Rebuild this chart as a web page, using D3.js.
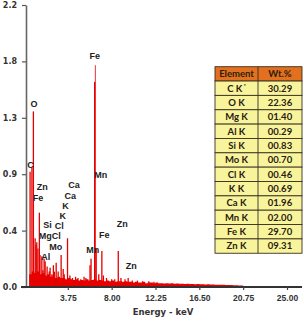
<!DOCTYPE html>
<html>
<head>
<meta charset="utf-8">
<script src="https://cdn.jsdelivr.net/npm/d3@7"></script>
<style>
  body { margin: 0; background: #fff; }
  svg { display: block; }
</style>
</head>
<body>
<div id="container"></div>
<script>
// background counts, one value every 0.25 keV starting at 0.00 keV
const bgStart = 0, bgStep = 0.25;
const bgValues = [
  0.10, 0.12, 0.11, 0.12, 0.10, 0.11, 0.09, 0.10, 0.08, 0.09, 0.07, 0.08,
  0.07, 0.07, 0.06, 0.07, 0.06, 0.055, 0.06, 0.05, 0.055, 0.05, 0.06, 0.05,
  0.055, 0.06, 0.05, 0.055, 0.05, 0.045, 0.05, 0.045, 0.05, 0.04, 0.045, 0.045,
  0.04, 0.045, 0.04, 0.04, 0.035, 0.04, 0.035, 0.035, 0.04, 0.03, 0.035, 0.035,
  0.03, 0.035, 0.03, 0.03, 0.028, 0.03, 0.027, 0.03, 0.026, 0.027, 0.025, 0.026,
  0.024, 0.025, 0.023, 0.024, 0.022, 0.023, 0.021, 0.022, 0.02, 0.021, 0.019, 0.02,
  0.018, 0.018, 0.017, 0.017, 0.016, 0.015, 0.015, 0.014, 0.013, 0.012, 0.011, 0.008
];

// peak lines: energy (keV) and height
const peakE = [
  0.09, 0.27, 0.41, 0.58, 0.66, 0.74, 0.85, 0.99, 1.05, 1.23, 1.33, 1.45,
  1.55, 1.74, 1.95, 2.03, 2.2, 2.35, 2.45, 2.62, 2.81, 3.1, 3.3, 3.4,
  3.72, 3.95, 4.2, 4.5, 4.73, 5.0, 5.32, 5.5, 5.9, 6.0, 6.35, 6.42,
  6.5, 6.75, 7.05, 7.2, 7.5, 8.0, 8.3, 8.64, 8.9, 9.3, 9.6, 10.0,
  10.5, 11.0, 11.6, 12.1
];
const peakV = [
  0.90, 0.93, 1.37, 0.38, 0.33, 0.35, 0.30, 0.58, 0.25, 0.24, 0.13, 0.22,
  0.20, 0.16, 0.12, 0.15, 0.10, 0.17, 0.12, 0.19, 0.12, 0.25, 0.14, 0.10,
  0.38, 0.09, 0.07, 0.08, 0.07, 0.06, 0.08, 0.07, 0.17, 0.22, 1.60, 1.73,
  0.30, 0.10, 0.28, 0.09, 0.07, 0.06, 0.06, 0.28, 0.07, 0.06, 0.07, 0.05,
  0.05, 0.045, 0.045, 0.04
];

// peak annotations
const labelText = ["Fe", "O", "C", "Mn", "Zn", "Fe", "Ca", "Ca", "K", "K", "Si", "Cl",
  "Mg", "Cl", "Mo", "Al", "Mn", "Fe", "Zn", "Zn"];
const labelE = [6.35, 0.46, 0.14, 6.94, 1.26, 0.87, 4.36, 3.98, 3.52, 3.25, 1.79, 2.91,
  1.55, 2.62, 2.57, 1.60, 6.16, 7.28, 9.02, 9.90];
const labelV = [1.775, 1.402, 0.928, 0.848, 0.757, 0.671, 0.770, 0.689, 0.606, 0.528, 0.460, 0.456,
  0.378, 0.378, 0.289, 0.207, 0.269, 0.382, 0.468, 0.137];

// ticks
const yTicks = [0, 0.44, 0.88, 1.32, 1.76, 2.2];
const xTicks = [3.75, 8.00, 12.25, 16.50, 20.75, 25.00];

// composition table
const elements = ["C K", "O K", "Mg K", "Al K", "Si K", "Mo K", "Cl K", "K K", "Ca K", "Mn K", "Fe K", "Zn K"];
const wtPct = [30.29, 22.36, 1.40, 0.29, 0.83, 0.70, 0.46, 0.69, 1.96, 2.00, 29.70, 9.31];

const W = 304, H = 321;
const red = "#e60000";

const xScale = d3.scaleLinear().domain([-0.5, 25]).range([24, 287]);
const yScale = d3.scaleLinear().domain([0, 2.2]).range([287, 5]);

const svg = d3.select("#container").append("svg")
  .attr("width", W)
  .attr("height", H);

// background area
const bg = bgValues.map((v, i) => [bgStart + i * bgStep, v]);
svg.append("path")
  .datum(bg)
  .attr("fill", red)
  .attr("d", d3.area()
    .x(d => xScale(d[0]))
    .y0(yScale(0))
    .y1(d => yScale(d[1]))
    .curve(d3.curveStepAfter));

// peaks
svg.append("g")
  .selectAll("line")
  .data(peakE)
  .join("line")
  .attr("x1", d => xScale(d))
  .attr("x2", d => xScale(d))
  .attr("y1", yScale(0))
  .attr("y2", (d, i) => yScale(peakV[i]))
  .attr("stroke", red)
  .attr("stroke-width", (d, i) => peakV[i] > 1.65 ? 0.8 : 1.3);

// y axis
const yAxis = d3.axisLeft(yScale)
  .tickValues(yTicks)
  .tickFormat(d3.format(".1f"))
  .tickSize(4)
  .tickSizeOuter(0)
  .tickPadding(5);

const gy = svg.append("g")
  .attr("transform", "translate(26,0)")
  .call(yAxis);
gy.select(".domain").attr("stroke", "#666").attr("stroke-width", 1.6);
gy.selectAll(".tick line").attr("stroke", "#555").attr("stroke-width", 1.2);
gy.selectAll(".tick text")
  .attr("fill", "#333")
  .style("font", "bold 8px 'DejaVu Sans'");

// x axis
const xAxis = d3.axisBottom(xScale)
  .tickValues(xTicks)
  .tickFormat(d3.format(".2f"))
  .tickSize(3)
  .tickSizeOuter(0)
  .tickPadding(5);

const gx = svg.append("g")
  .attr("transform", "translate(0," + yScale(0) + ")")
  .call(xAxis);
gx.select(".domain")
  .attr("d", "M21,0H302")
  .attr("stroke", "#333")
  .attr("stroke-width", 2);
gx.selectAll(".tick line").attr("stroke", "#444").attr("stroke-width", 1.2);
gx.selectAll(".tick text")
  .attr("fill", "#333")
  .style("font", "bold 8.5px 'Liberation Sans'");

svg.append("text")
  .attr("x", 163)
  .attr("y", 315)
  .attr("text-anchor", "middle")
  .attr("fill", "#333")
  .style("font", "bold 8.5px 'DejaVu Sans'")
  .text("Energy - keV");

// peak labels
svg.append("g")
  .selectAll("text")
  .data(labelText)
  .join("text")
  .attr("x", (d, i) => xScale(labelE[i]))
  .attr("y", (d, i) => yScale(labelV[i]))
  .attr("text-anchor", "middle")
  .attr("fill", "#222")
  .style("font", "bold 9px 'Liberation Sans'")
  .text(d => d);

// table
const tx0 = 215, tx1 = 258, tx2 = 302, ty0 = 66.7, rowH = 14.35;
const table = svg.append("g");
const rows = [["Element", "Wt.%"]].concat(elements.map((e, i) => [e, d3.format("05.2f")(wtPct[i])]));

table.selectAll("rect.row")
  .data(rows)
  .join("rect")
  .attr("class", "row")
  .attr("x", tx0)
  .attr("y", (d, i) => ty0 + i * rowH)
  .attr("width", tx2 - tx0)
  .attr("height", rowH)
  .attr("fill", (d, i) => i === 0 ? "#e2701e" : "#f8f49c")
  .attr("stroke", "#3a3020")
  .attr("stroke-width", 0.9);

table.append("line")
  .attr("x1", tx1).attr("x2", tx1)
  .attr("y1", ty0).attr("y2", ty0 + rows.length * rowH)
  .attr("stroke", "#3a3020")
  .attr("stroke-width", 0.9);

rows.forEach((r, i) => {
  const yMid = ty0 + i * rowH + rowH / 2 + 3.3;
  const t1 = table.append("text")
    .attr("x", (tx0 + tx1) / 2)
    .attr("y", yMid)
    .attr("text-anchor", "middle")
    .attr("fill", "#2a2010")
    .style("font", "bold 9.5px Lato")
    .text(r[0]);
  if (i === 1) {
    t1.append("tspan")
      .attr("dx", 1.5)
      .attr("dy", -4)
      .style("font-size", "5px")
      .text("*");
  }
  table.append("text")
    .attr("x", (tx1 + tx2) / 2)
    .attr("y", yMid)
    .attr("text-anchor", "middle")
    .attr("fill", "#2a2010")
    .style("font", "bold 9.5px Lato")
    .text(r[1]);
});
</script>
</body>
</html>
